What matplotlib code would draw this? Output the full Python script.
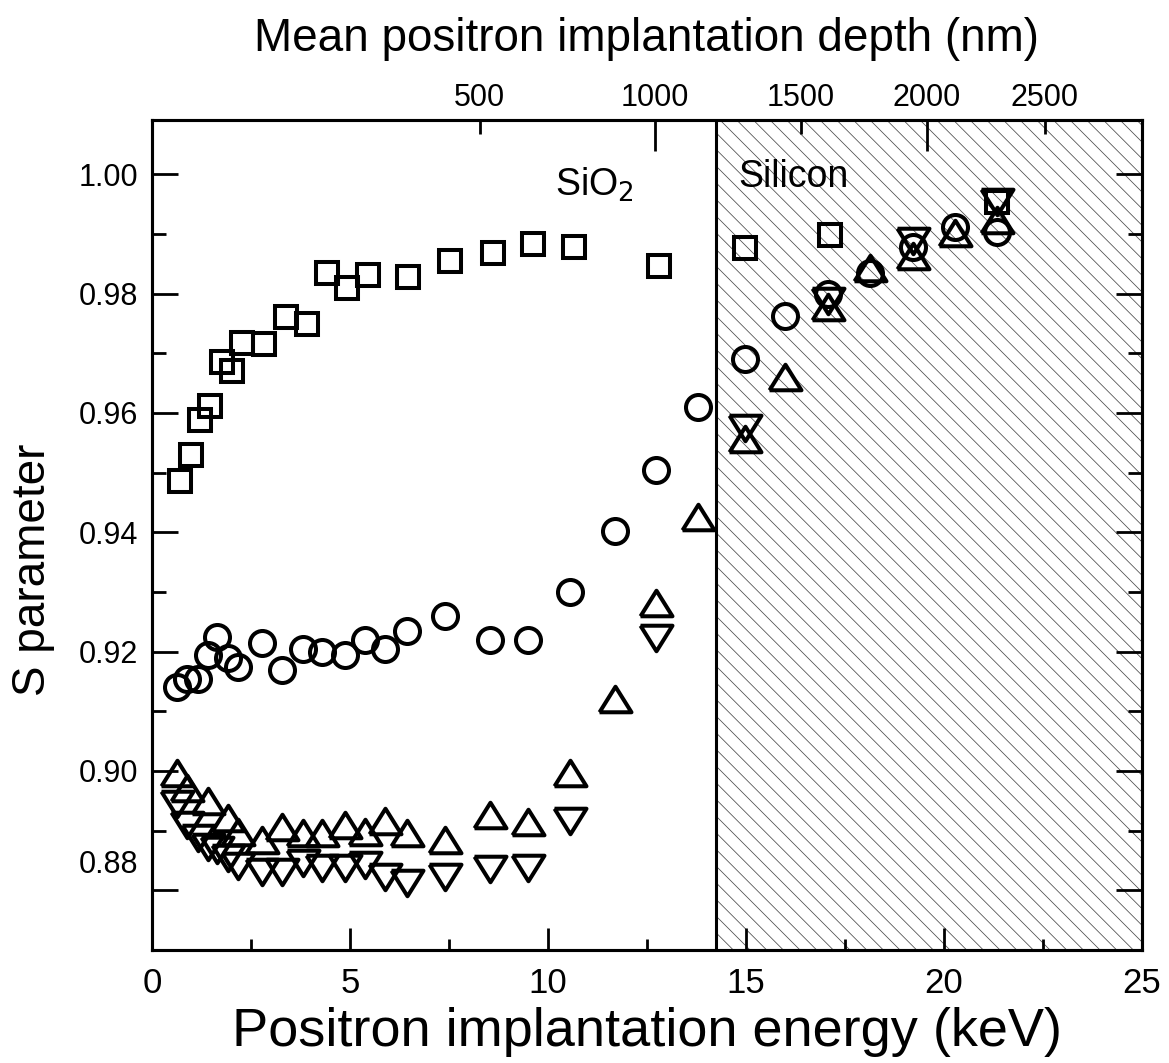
import matplotlib
matplotlib.use("Agg")
import matplotlib.pyplot as plt
import numpy as np

plt.rcParams['font.family'] = ['Liberation Sans', 'DejaVu Sans']

# squares
sq_e = [0.71, 0.98, 1.21, 1.46, 1.76, 2.01, 2.27, 2.83, 3.38, 3.91, 4.41, 4.93,
        5.46, 6.47, 7.53, 8.62, 9.63, 10.66, 12.80, 14.97, 17.12, 21.35]
sq_s = [0.9486, 0.9530, 0.9588, 0.9612, 0.9686, 0.9671, 0.9717, 0.9715, 0.9761,
        0.9749, 0.9835, 0.9810, 0.9832, 0.9828, 0.9854, 0.9868, 0.9884, 0.9879,
        0.9846, 0.9876, 0.9898, 0.9954]

# circles
ci_e = [0.63, 0.88, 1.15, 1.41, 1.65, 1.92, 2.17, 2.78, 3.28, 3.81, 4.29, 4.87,
        5.38, 5.88, 6.44, 7.40, 8.54, 9.49, 10.56, 11.69, 12.73, 13.79, 14.97,
        15.98, 17.07, 18.13, 19.23, 20.28, 21.35]
ci_s = [0.914, 0.9155, 0.9155, 0.9195, 0.9225, 0.919, 0.9175, 0.9215, 0.917,
        0.9205, 0.920, 0.9195, 0.922, 0.9205, 0.9235, 0.926, 0.922, 0.922,
        0.930, 0.9403, 0.9504, 0.961, 0.969, 0.9763, 0.9799, 0.9835, 0.9879,
        0.9912, 0.9904]

# up triangles
tu_e = [0.63, 0.88, 1.41, 1.92, 2.17, 2.78, 3.28, 3.81, 4.29, 4.87, 5.38, 5.88,
        6.44, 7.40, 8.54, 9.49, 10.56, 11.69, 12.73, 13.79, 14.97, 15.98, 17.07,
        18.13, 19.23, 20.28, 21.35]
tu_s = [0.8997, 0.8972, 0.8950, 0.8922, 0.8898, 0.8884, 0.8906, 0.8896, 0.8896,
        0.8909, 0.8898, 0.8917, 0.8896, 0.8884, 0.8926, 0.8914, 0.8997, 0.9121,
        0.9281, 0.9425, 0.9557, 0.9661, 0.9777, 0.9843, 0.9863, 0.9901, 0.9923]

# down triangles
td_e = [0.63, 0.88, 1.15, 1.41, 1.65, 1.92, 2.17, 2.78, 3.28, 3.81, 4.29, 4.87,
        5.38, 5.88, 6.44, 7.40, 8.54, 9.49, 10.56, 12.73, 14.97, 17.07, 19.23,
        21.35]
td_s = [0.8945, 0.8909, 0.8888, 0.8873, 0.8868, 0.8855, 0.8840, 0.8830, 0.8830,
        0.8846, 0.8838, 0.8838, 0.8843, 0.8823, 0.8813, 0.8823, 0.8835, 0.8838,
        0.8917, 0.9223, 0.9574, 0.9788, 0.9888, 0.9954]

# top axis: depth (nm) and the energy where each tick sits
depth_ticks = [500, 1000, 1500, 2000, 2500]
depth_tick_e = [8.28, 12.69, 16.39, 19.57, 22.55]

interface_e = 14.24

fig = plt.figure(figsize=(11.69, 10.63), dpi=100)
ax = fig.add_axes([0.130, 0.1063, 0.8469, 0.7808])
ax.set_xlim(0, 25)
ax.set_ylim(0.8719, 1.0091)

# silicon region with hatch
plt.rcParams['hatch.linewidth'] = 0.55
ax.axvspan(interface_e, 25, facecolor='none', edgecolor='#4a4a4a', hatch='\\\\',
           linewidth=0, zorder=0)
ax.axvline(interface_e, color='black', linewidth=2.2, zorder=1)

tri_up = [(-1, -0.8), (1, -0.8), (0, 0.8), (-1, -0.8)]
tri_dn = [(-1, 0.8), (1, 0.8), (0, -0.8), (-1, 0.8)]
common = dict(linestyle='none', markerfacecolor='none', markeredgecolor='black',
              markeredgewidth=2.9, zorder=3)
ax.plot(sq_e, sq_s, marker='s', markersize=16, **common)
ax.plot(ci_e, ci_s, marker='o', markersize=18, **common)
ax.plot(tu_e, tu_s, marker=tri_up, markersize=23, **common)
ax.plot(td_e, td_s, marker=tri_dn, markersize=23, **common)

ax.text(10.18, 0.9983, 'SiO$_2$', fontsize=27, ha='left', va='center')
ax.text(14.8, 0.9995, 'Silicon', fontsize=27, ha='left', va='center')

for sp in ax.spines.values():
    sp.set_linewidth(2.2)

ax.set_xticks([0, 5, 10, 15, 20, 25])
ax.set_xticks(np.arange(2.5, 25, 5), minor=True)
ax.set_yticks([0.88, 0.90, 0.92, 0.94, 0.96, 0.98, 1.00])
ax.set_yticklabels(['', '0.90', '0.92', '0.94', '0.96', '0.98', '1.00'])
ax.set_yticks(np.arange(0.87, 1.005, 0.01), minor=True)
ax.tick_params(axis='both', which='both', direction='in', width=2.0,
               labelsize=22, right=True)
ax.tick_params(axis='x', which='major', length=16, pad=12, labelsize=25)
ax.tick_params(axis='x', which='minor', length=8)
ax.tick_params(axis='y', which='major', length=19, pad=10)
ax.tick_params(axis='y', which='minor', length=10)

# the 0.88 label sits higher than its tick in the original
ax.annotate('0.88', xy=(0, 0.88), xycoords=('axes fraction', 'data'),
            xytext=(-14, 25), textcoords='offset pixels', ha='right',
            va='center', fontsize=22)

ax.set_xlabel('Positron implantation energy (keV)', fontsize=39, labelpad=5)
ax.set_ylabel('S parameter', fontsize=33)
ax.yaxis.set_label_coords(-0.098, 0.458)

top = ax.twiny()
top.set_xlim(ax.get_xlim())
top.set_xticks([depth_tick_e[1], depth_tick_e[3]])
top.set_xticklabels([str(depth_ticks[1]), str(depth_ticks[3])])
top.set_xticks([depth_tick_e[0], depth_tick_e[2], depth_tick_e[4]], minor=True)
top.set_xticklabels([str(depth_ticks[0]), str(depth_ticks[2]), str(depth_ticks[4])],
                    minor=True)
top.tick_params(axis='x', which='both', direction='in', width=2.0,
                labelsize=22, pad=5)
top.tick_params(axis='x', which='major', length=22)
top.tick_params(axis='x', which='minor', length=10)
top.set_xlabel('Mean positron implantation depth (nm)', fontsize=33, labelpad=23)
for sp in top.spines.values():
    sp.set_linewidth(2.2)

fig.savefig('out.png', dpi=100)
